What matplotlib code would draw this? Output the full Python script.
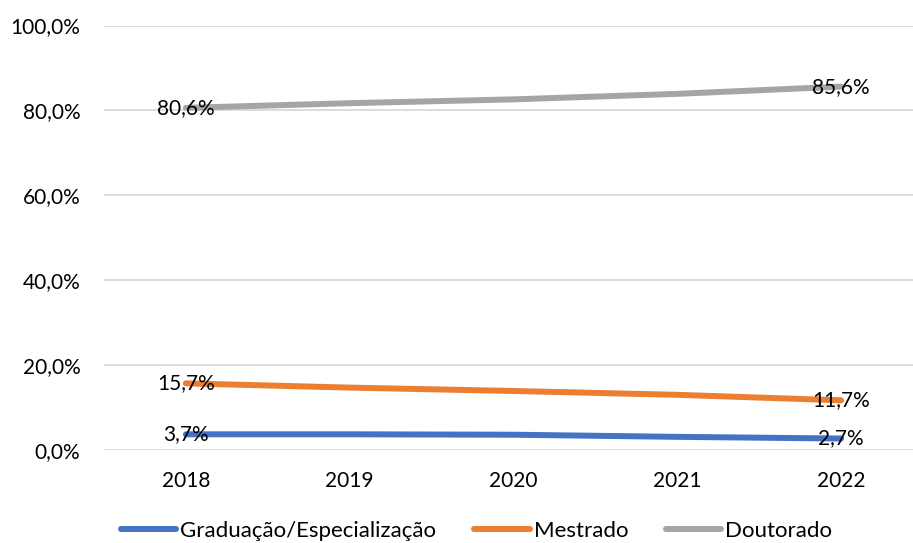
import matplotlib
matplotlib.use("Agg")
import matplotlib.pyplot as plt

years = ["2018", "2019", "2020", "2021", "2022"]
graduacao = [3.7, 3.7, 3.6, 3.1, 2.7]
mestrado = [15.7, 14.7, 13.9, 13.0, 11.7]
doutorado = [80.6, 81.7, 82.6, 83.9, 85.6]
series_names = ["Graduação/Especialização", "Mestrado", "Doutorado"]
series_colors = ["#4472C4", "#ED7D31", "#A5A5A5"]
y_ticks = [0, 20, 40, 60, 80, 100]

plt.rcParams["font.family"] = ["Lato", "DejaVu Sans"]
FS = 15

W, H = 913, 543
fig = plt.figure(figsize=(W / 100, H / 100), dpi=100)
ax = fig.add_axes([104 / W, 1 - 450 / H, (923 - 104) / W, (450 - 25.5) / H])

x = list(range(len(years)))
handles = []
for vals, name, col in zip([graduacao, mestrado, doutorado], series_names, series_colors):
    (ln,) = ax.plot(x, vals, color=col, lw=4.3, solid_capstyle="round",
                    solid_joinstyle="round", label=name, zorder=3)
    handles.append(ln)
    # value labels on first and last points
    for i in (0, len(vals) - 1):
        ax.text(x[i], vals[i], f"{vals[i]:.1f}%".replace(".", ","),
                ha="center", va="center", fontsize=FS, color="#000000", zorder=5)

ax.set_xlim(-0.5, len(years) - 0.5)
ax.set_ylim(0, 100)
ax.set_xticks(x)
ax.set_xticklabels(years)
ax.set_yticks(y_ticks)
ax.set_yticklabels([f"{v:.1f}%".replace(".", ",") for v in y_ticks])
ax.tick_params(axis="both", length=0, labelsize=FS, colors="#000000")
ax.tick_params(axis="y", pad=17)
ax.tick_params(axis="x", pad=15)
for s in ax.spines.values():
    s.set_visible(False)
ax.grid(axis="y", color="#D9D9D9", lw=1.3)
ax.set_axisbelow(True)

fig.legend(handles=handles, loc="center", bbox_to_anchor=(476.5 / W, 1 - 531 / H),
           ncol=3, frameon=False, fontsize=16, handlelength=2.5,
           handletextpad=0.18, columnspacing=1.7, borderaxespad=0)

fig.savefig("out.png", dpi=100)
